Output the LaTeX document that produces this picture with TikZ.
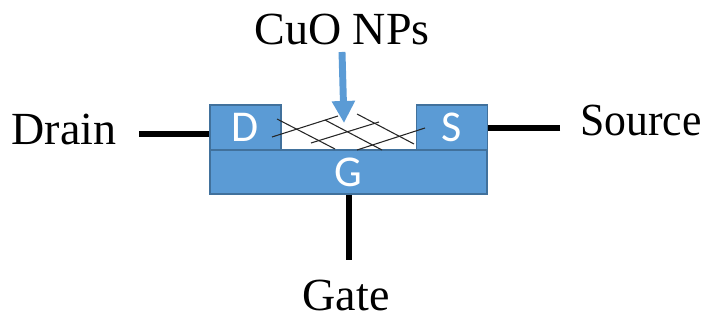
\documentclass[tikz,border=0pt]{standalone}
\usepackage{fontspec}
\setmainfont{Liberation Serif}
\newfontfamily\boxfont{Carlito}
\usetikzlibrary{arrows.meta}
\definecolor{boxblue}{HTML}{5B9BD5}
\definecolor{boxedge}{HTML}{41719C}

\begin{document}
\begin{tikzpicture}[x=0.75pt, y=0.75pt, >=Stealth,
    elec/.style={draw=boxedge, line width=1.2pt, fill=boxblue, text=white, inner sep=0pt, font=\boxfont\fontsize{33}{34}\selectfont},
    lbl/.style={inner sep=0pt, font=\fontsize{34.5}{36}\selectfont},
    lead/.style={line width=3.8pt, black},
    mesh/.style={line width=0.8pt, black!85}]
\useasboundingbox (0,0) rectangle (705,320);

\node[elec, minimum width=208pt, minimum height=33pt] (gbox) at (348.5,148) {G};
\node[elec, minimum width=53pt, minimum height=34pt] (dbox) at (245.5,192.5) {D};
\node[elec, minimum width=53pt, minimum height=34pt] (sbox) at (452,192.5) {S};

\node[lbl] (drain) at (64,190) {Drain};
\node[lbl, xscale=0.95] (source) at (641,199) {Source};
\node[lbl] (gate) at (346,25) {Gate};
\node[lbl] (cuo) at (342,290) {CuO NPs};

\coordinate (drainend) at (139,186);
\coordinate (sourceend) at (560,192);
\coordinate (gateend) at (349,60);
\coordinate (arrowtop) at (342,268);
\coordinate (arrowtip) at (344,197);

\draw[lead] (drainend) -- (drainend -| dbox.west);
\draw[lead] (sourceend) -- (sourceend -| sbox.east);
\draw[lead] (gateend) -- (gateend |- gbox.south);

% nanoparticle network
\foreach \xa/\ya/\xb/\yb in {272/183/338/204, 311/177/379/198, 357/170/425/192,
    277/201/335/171, 325/200/382/170, 357/206/414/176}
  \draw[mesh] (\xa,\ya) -- (\xb,\yb);

\draw[-{Triangle[length=16.5pt, width=16.5pt]}, line width=5.2pt, boxblue] (arrowtop) -- (arrowtip);

\end{tikzpicture}
\end{document}
